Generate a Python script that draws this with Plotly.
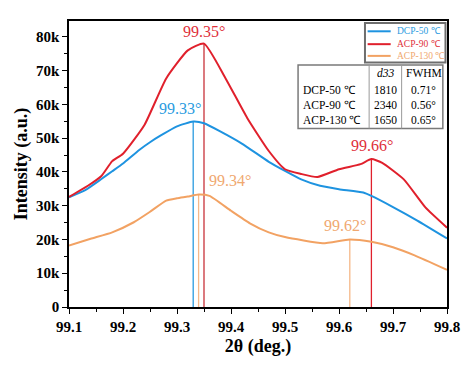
import plotly.graph_objects as go

# ---------------- data ----------------
series_names = ["DCP-50 ℃", "ACP-90 ℃", "ACP-130 ℃"]
series_colors = ["#1E93E0", "#E0202C", "#F2A263"]
label_colors = ["#2A9BE0", "#E0303A", "#F0A870"]

dcp50_x = [99.10, 99.13, 99.16, 99.18, 99.20, 99.23, 99.25, 99.27, 99.30, 99.33, 99.35,
           99.38, 99.42, 99.47, 99.50, 99.53, 99.565, 99.60, 99.645, 99.66, 99.70, 99.745, 99.80]
dcp50_y = [32500, 34600, 37900, 40200, 42500, 46500, 48800, 50800, 53500, 54900, 54400,
           52000, 48400, 43000, 40300, 37800, 35900, 34900, 33900, 32900, 29600, 25600, 20300]

acp90_x = [99.10, 99.135, 99.16, 99.18, 99.20, 99.24, 99.28, 99.32, 99.35, 99.39, 99.43,
           99.47, 99.50, 99.53, 99.56, 99.60, 99.64, 99.66, 99.68, 99.72, 99.76, 99.80]
acp90_y = [32600, 35900, 38800, 43200, 45400, 54000, 67700, 76000, 78000, 67700, 56000,
           46200, 40800, 39400, 38500, 40800, 42300, 43800, 42700, 37800, 29500, 23500]

acp130_x = [99.10, 99.14, 99.18, 99.22, 99.25, 99.28, 99.30, 99.32, 99.34, 99.36, 99.40,
            99.435, 99.47, 99.50, 99.57, 99.62, 99.66, 99.70, 99.74, 99.80]
acp130_y = [18200, 20200, 22100, 25100, 28200, 31500, 32200, 32700, 33300, 32900, 28500,
            24800, 22100, 20700, 18900, 20000, 19300, 17700, 15300, 11000]

# peak markers: x, height, label, series index
peak_x = [99.33, 99.35, 99.34, 99.66, 99.62]
peak_y = [54900, 78000, 33300, 43800, 20000]
peak_labels = ["99.33°", "99.35°", "99.34°", "99.66°", "99.62°"]
peak_series = [0, 1, 2, 1, 2]

# table
table_header = ["", "d33", "FWHM"]
table_rows = [["DCP-50 ℃", "1810", "0.71°"],
              ["ACP-90 ℃", "2340", "0.56°"],
              ["ACP-130 ℃", "1650", "0.65°"]]

x_ticks = [99.1, 99.2, 99.3, 99.4, 99.5, 99.6, 99.7, 99.8]
y_ticks = [0, 10000, 20000, 30000, 40000, 50000, 60000, 70000, 80000]
y_ticktext = ["0", "10k", "20k", "30k", "40k", "50k", "60k", "70k", "80k"]

FONT = "Liberation Serif"

fig = go.Figure()

# vertical peak lines
peak_line_colors = ["#2A9BE0", "#C8323A", "#F5B888", "#E0202C", "#F5B888"]
for px, py, c in zip(peak_x, peak_y, peak_line_colors):
    fig.add_trace(go.Scatter(x=[px, px], y=[0, py], mode="lines",
                             line=dict(color=c, width=1.3), showlegend=False,
                             hoverinfo="skip"))

xs = [dcp50_x, acp90_x, acp130_x]
ys = [dcp50_y, acp90_y, acp130_y]
for name, x, y, c in zip(series_names, xs, ys, series_colors):
    fig.add_trace(go.Scatter(x=x, y=y, mode="lines", name=name,
                             line=dict(color=c, width=2, shape="spline", smoothing=0.5),
                             showlegend=False))

# peak labels
label_shift = [(-13, 3, "center"), (0, 2, "center"), (8, 4, "left"), (1, 3, "center"), (-5, 3, "center")]
annotations = []
for px, py, txt, si, (dx, dy, xa) in zip(peak_x, peak_y, peak_labels, peak_series, label_shift):
    annotations.append(dict(x=px, y=py, text=txt, showarrow=False, xanchor=xa,
                            yanchor="bottom", xshift=dx, yshift=dy,
                            font=dict(family=FONT, size=16, color=label_colors[si])))

shapes = []
# manual legend (domain coordinates)
shapes.append(dict(type="rect", xref="x domain", yref="y domain", x0=0.783, x1=0.996,
                   y0=0.855, y1=0.993, line=dict(color="#6E6E6E", width=2),
                   fillcolor="white", layer="above"))
legend_rows = [0.964, 0.919, 0.878]
for yr, name, c, lc in zip(legend_rows, series_names, series_colors, label_colors):
    shapes.append(dict(type="line", xref="x domain", yref="y domain", x0=0.79, x1=0.851,
                       y0=yr, y1=yr, line=dict(color=c, width=2), layer="above"))
    annotations.append(dict(xref="x domain", yref="y domain", x=0.862, y=yr, text=name,
                            showarrow=False, xanchor="left", yanchor="middle",
                            font=dict(family=FONT, size=9.5, color=lc)))

# table
shapes.append(dict(type="rect", xref="x domain", yref="y domain", x0=0.606, x1=0.989,
                   y0=0.624, y1=0.846, line=dict(color="#7A7A7A", width=1.5),
                   fillcolor="white", layer="above"))
for xv in [0.794, 0.880]:
    shapes.append(dict(type="line", xref="x domain", yref="y domain", x0=xv, x1=xv,
                       y0=0.624, y1=0.846, line=dict(color="#9A9A9A", width=1), layer="above"))
col_x = [0.614, 0.838, 0.939]
col_anchor = ["left", "center", "center"]
row_y = [0.817, 0.759, 0.707, 0.655]
for ci, h in enumerate(table_header):
    if h:
        txt = "<i>" + h + "</i>" if h == "d33" else h
        annotations.append(dict(xref="x domain", yref="y domain", x=col_x[ci], y=row_y[0],
                                text=txt, showarrow=False, xanchor=col_anchor[ci],
                                yanchor="middle", font=dict(family=FONT, size=11.5, color="black")))
for ri, row in enumerate(table_rows):
    for ci, cell in enumerate(row):
        annotations.append(dict(xref="x domain", yref="y domain", x=col_x[ci], y=row_y[ri + 1],
                                text=cell, showarrow=False, xanchor=col_anchor[ci],
                                yanchor="middle", font=dict(family=FONT, size=11.5, color="black")))

# page body has an 8px margin, so offset the plot margins accordingly
fig.update_layout(
    width=474, height=370,
    margin=dict(l=61, r=35, t=11, b=71),
    paper_bgcolor="white", plot_bgcolor="white",
    showlegend=False,
    annotations=annotations, shapes=shapes,
    font=dict(family=FONT, color="black"),
)
fig.update_xaxes(range=[99.1, 99.8], tickvals=x_ticks, ticktext=[f"{v:.1f}" for v in x_ticks],
                 ticks="outside", ticklen=5, tickwidth=1.3, tickcolor="black",
                 minor=dict(dtick=0.05, tick0=99.1, ticks="outside", ticklen=3, tickwidth=1.2, tickcolor="black"),
                 showline=True, linecolor="black", linewidth=1.5, mirror=True,
                 showgrid=False, zeroline=False,
                 tickfont=dict(family=FONT, size=15, color="black", weight="bold"),
                 title=dict(text="<b>2θ (deg.)</b>", font=dict(family=FONT, size=18, color="black"),
                            standoff=6))
fig.update_yaxes(range=[0, 84700], tickvals=y_ticks, ticktext=y_ticktext,
                 ticks="outside", ticklen=5, tickwidth=1.3, tickcolor="black",
                 minor=dict(dtick=5000, tick0=0, ticks="outside", ticklen=3, tickwidth=1.2, tickcolor="black"),
                 showline=True, linecolor="black", linewidth=1.5, mirror=True,
                 showgrid=False, zeroline=False,
                 tickfont=dict(family=FONT, size=15, color="black", weight="bold"),
                 title=dict(text="<b>Intensity (a.u.)</b>", font=dict(family=FONT, size=18, color="black"),
                            standoff=4))

fig.write_html("out.html")
